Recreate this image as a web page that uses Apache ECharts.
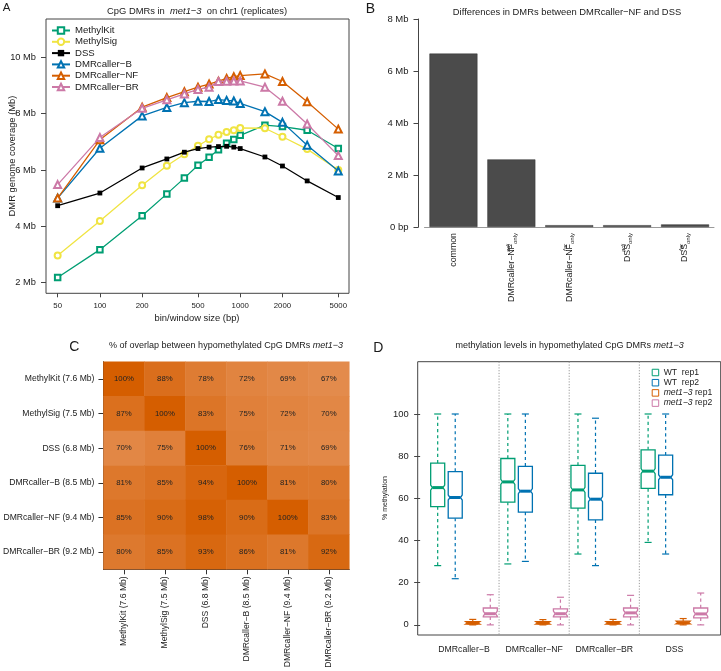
<!DOCTYPE html>
<html><head><meta charset="utf-8">
<script src="https://cdn.jsdelivr.net/npm/echarts@6/dist/echarts.min.js"></script>
<style>html,body{margin:0;padding:0;background:#fff}#c{width:721px;height:671px}</style>
</head><body><div id="c"></div>
<script>
const FONT = '"Liberation Sans", Arial, Helvetica, sans-serif';
const TXT = '#1a1a1a';

// ---------- Panel A data ----------
const binSizes = [50,100,200,300,400,500,600,700,800,900,1000,1500,2000,3000,5000];
const aNames = ['MethylKit','MethylSig','DSS','DMRcaller−B','DMRcaller−NF','DMRcaller−BR'];
const methylKit = [2.18,3.17,4.37,5.15,5.71,6.17,6.45,6.72,6.95,7.08,7.23,7.59,7.54,7.41,6.76];
const methylSig = [2.96,4.19,5.46,6.15,6.56,6.86,7.09,7.25,7.35,7.41,7.49,7.48,7.18,6.74,6.00];
const dss       = [4.73,5.18,6.07,6.39,6.63,6.76,6.81,6.83,6.84,6.81,6.76,6.46,6.14,5.61,5.02];
const dmrB      = [5.00,6.77,7.92,8.22,8.39,8.44,8.43,8.50,8.47,8.45,8.36,8.07,7.69,6.88,5.96];
const dmrNF     = [5.00,7.07,8.23,8.57,8.78,8.94,9.05,9.15,9.25,9.31,9.35,9.41,9.14,8.42,7.45];
const dmrBR     = [5.48,7.15,8.19,8.49,8.70,8.86,8.94,9.14,9.15,9.16,9.16,8.94,8.44,7.63,6.51];
const aTicksX = [50,100,200,500,1000,2000,5000];
const aTicksY = [2,4,6,8,10];

// ---------- Panel B data ----------
const bCategories = ['common','NF_adj','NF_far','DSS_adj','DSS_far'];
const bLabelMain = ['common','DMRcaller−NF','DMRcaller−NF','DSS','DSS'];
const bLabelSup  = ['','adj','far','adj','far'];
const bLabelSub  = ['','only','only','only','only'];
const bValues = [6.67, 2.60, 0.07, 0.07, 0.10];
const bTicksY = [0,2,4,6,8];

// ---------- Panel C data ----------
const cNames = ['MethylKit (7.6 Mb)','MethylSig (7.5 Mb)','DSS (6.8 Mb)','DMRcaller−B (8.5 Mb)','DMRcaller−NF (9.4 Mb)','DMRcaller−BR (9.2 Mb)'];
const overlap = [
  [100,88,78,72,69,67],
  [87,100,83,75,72,70],
  [70,75,100,76,71,69],
  [81,85,94,100,81,80],
  [85,90,98,90,100,83],
  [80,85,93,86,81,92]
];

// ---------- Panel D data ----------
const dGroups = ['DMRcaller−B','DMRcaller−NF','DMRcaller−BR','DSS'];
const dSamples = ['WT  rep1','WT  rep2','met1−3 rep1','met1−3 rep2'];
// [low whisker, Q1, median, Q3, high whisker] per group
const wtRep1  = [[28.1,56.1,65.1,76.7,100],[28.9,58.2,67.8,78.9,100],[33.6,55.4,64.0,75.6,100],[39.1,64.7,72.9,83.0,100]];
const wtRep2  = [[21.9,50.6,60.4,72.7,100],[30.1,53.5,63.4,75.2,100],[28.1,49.8,59.6,71.9,98.0],[33.6,61.7,70.0,80.5,100]];
const metRep1 = [[0,0.4,0.9,1.5,2.6],[0,0.4,0.9,1.5,2.5],[0,0.4,0.9,1.5,2.6],[0,0.5,1.0,1.8,3.0]];
const metRep2 = [[0,3.8,5.3,8.0,14.3],[0,3.8,5.3,7.6,13.1],[0,3.8,5.7,8.0,14.0],[0,3.3,5.2,8.0,15.1]];
const dTicksY = [0,20,40,60,80,100];
const dGroupCenters = [2.5,6.5,10.5,14.5];
const dSeparators = [4.5,8.5,12.5];

// ---------- styles ----------
const aColors = ['#009E73','#F0E442','#000000','#0072B2','#D55E00','#CC79A7'];
const aSymbols = ['emptyRect','emptyCircle','rect','emptyTriangle','emptyTriangle','emptyTriangle'];
const aSymbolSizes = [5.5, 6, 4.8, 7, 7, 7];
const aData = [methylKit, methylSig, dss, dmrB, dmrNF, dmrBR];
const dColors = ['#009E73','#0072B2','#D55E00','#CC79A7'];
const dData = [wtRep1, wtRep2, metRep1, metRep2];

const chart = echarts.init(document.getElementById('c'), null, {renderer: 'canvas'});

const series = [];
aNames.forEach((n, i) => {
  series.push({
    name: n, type: 'line', xAxisIndex: 0, yAxisIndex: 0,
    data: binSizes.map((b, k) => [b, aData[i][k]]),
    symbol: aSymbols[i], symbolSize: aSymbolSizes[i],
    showSymbol: true,
    lineStyle: {width: 1.3, color: aColors[i]},
    itemStyle: {color: aColors[i], borderWidth: 1.1},
    emphasis: {disabled: true}, animation: false, z: 2 + i
  });
});

series.push({
  type: 'bar', xAxisIndex: 1, yAxisIndex: 1, data: bValues, barWidth: 48,
  itemStyle: {color: '#4b4b4b', borderColor: '#333', borderWidth: 0.5},
  animation: false, emphasis: {disabled: true}
});

const heatIndex = series.length;
const heatData = [];
overlap.forEach((row, r) => row.forEach((v, c) => heatData.push([c, r, v])));
series.push({
  type: 'heatmap', xAxisIndex: 2, yAxisIndex: 2, data: heatData,
  label: {show: true, formatter: p => p.value[2] + '%', fontSize: 7.8, color: '#222', fontFamily: FONT},
  emphasis: {disabled: true}, animation: false, progressive: 0
});

function boxRender(color) {
  return function (params, api) {
    const pos = api.value(0), lo = api.value(1), q1 = api.value(2), md = api.value(3), q3 = api.value(4), hi = api.value(5);
    const cx = api.coord([pos, md])[0];
    const hw = api.size([0.4, 0])[0];
    const iw = hw * 0.75;
    const y = v => api.coord([pos, v])[1];
    const notch = 1.2;
    const yq1 = y(q1), yq3 = y(q3), ym = y(md);
    const ya = y(Math.max(q1, md - notch)), yb = y(Math.min(q3, md + notch));
    const yl = y(lo), yh = y(hi);
    return {
      type: 'group',
      children: [
        {type: 'line', shape: {x1: cx, y1: yq3, x2: cx, y2: yh}, style: {stroke: color, lineWidth: 1.2, lineDash: [3.2, 3]}},
        {type: 'line', shape: {x1: cx, y1: yq1, x2: cx, y2: yl}, style: {stroke: color, lineWidth: 1.2, lineDash: [3.2, 3]}},
        {type: 'line', shape: {x1: cx - hw / 2, y1: yh, x2: cx + hw / 2, y2: yh}, style: {stroke: color, lineWidth: 1.2}},
        {type: 'line', shape: {x1: cx - hw / 2, y1: yl, x2: cx + hw / 2, y2: yl}, style: {stroke: color, lineWidth: 1.2}},
        {type: 'polygon', shape: {points: [
          [cx - hw, yq1], [cx - hw, ya], [cx - iw, ym], [cx - hw, yb], [cx - hw, yq3],
          [cx + hw, yq3], [cx + hw, yb], [cx + iw, ym], [cx + hw, ya], [cx + hw, yq1]
        ]}, style: {stroke: color, lineWidth: 1.3, fill: '#fff'}},
        {type: 'line', shape: {x1: cx - iw, y1: ym, x2: cx + iw, y2: ym}, style: {stroke: color, lineWidth: 3}}
      ]
    };
  };
}

series.push({
  type: 'custom', xAxisIndex: 3, yAxisIndex: 3, silent: true, animation: false,
  data: dSeparators.map(v => [v]),
  encode: {x: 0},
  renderItem: (params, api) => {
    const px = api.coord([api.value(0), 0])[0];
    const cs = params.coordSys;
    return {type: 'line', shape: {x1: px, y1: cs.y, x2: px, y2: cs.y + cs.height},
      style: {stroke: '#999', lineWidth: 1, lineDash: [1.2, 1.6]}};
  }
});

dSamples.forEach((n, s) => {
  series.push({
    name: n, type: 'custom', xAxisIndex: 3, yAxisIndex: 3, animation: false, silent: true,
    itemStyle: {color: dColors[s]},
    data: dData[s].map((st, g) => [g * 4 + s + 1].concat(st)),
    encode: {x: 0, y: [1, 2, 3, 4, 5]},
    renderItem: boxRender(dColors[s]),
    z: 3
  });
});

const ax = {fontFamily: FONT, color: TXT};

function bLabel(v) {
  const i = bCategories.indexOf(v);
  if (!bLabelSup[i]) return '{m|' + bLabelMain[i] + '}';
  return '{m|' + bLabelMain[i] + '}{sup|' + bLabelSup[i] + '}{sub|' + bLabelSub[i] + '}';
}

const option = {
  backgroundColor: '#fff',
  animation: false,
  textStyle: {fontFamily: FONT},
  grid: [
    {left: 46, top: 19, width: 303, height: 274.3, show: true, borderColor: '#444', borderWidth: 1, backgroundColor: 'transparent'},
    {left: 424.5, top: 19, width: 289.5, height: 208},
    {left: 103.3, top: 361.7, width: 246, height: 207.6},
    {left: 417.7, top: 361.7, width: 303, height: 273.3, show: true, borderColor: '#444', borderWidth: 1, backgroundColor: 'transparent'}
  ],
  xAxis: [
    {gridIndex: 0, type: 'log', logBase: 10, min: 41.3, max: 5960,
      axisLine: {show: false}, splitLine: {show: false}, minorTick: {show: false},
      axisTick: {show: true, length: 4, lineStyle: {color: '#444'}, customValues: aTicksX},
      axisLabel: Object.assign({fontSize: 7.8, margin: 9, customValues: aTicksX, formatter: v => String(v)}, ax)},
    {gridIndex: 1, type: 'category', data: bCategories,
      axisLine: {show: true, lineStyle: {color: '#9a9a9a', width: 1}},
      axisTick: {show: false}, splitLine: {show: false},
      axisLabel: Object.assign({rotate: 90, margin: 6, interval: 0, formatter: bLabel,
        rich: {
          m: {fontSize: 8.8, fontFamily: FONT, color: TXT, lineHeight: 13, verticalAlign: 'middle'},
          sup: {fontSize: 6, fontFamily: FONT, color: TXT, lineHeight: 7, verticalAlign: 'top', width: 0, fontStyle: 'italic'},
          sub: {fontSize: 6, fontFamily: FONT, color: TXT, lineHeight: 7, verticalAlign: 'bottom'}
        }}, ax)},
    {gridIndex: 2, type: 'category', data: cNames,
      axisLine: {show: true, lineStyle: {color: '#333'}},
      axisTick: {show: true, length: 5, alignWithLabel: true, lineStyle: {color: '#333'}},
      splitLine: {show: false},
      axisLabel: Object.assign({rotate: 90, fontSize: 8.6, margin: 7, interval: 0}, ax)},
    {gridIndex: 3, type: 'value', min: -0.14, max: 17.14,
      axisLine: {show: false}, axisTick: {show: false}, splitLine: {show: false},
      axisLabel: Object.assign({fontSize: 8.7, margin: 10, customValues: dGroupCenters,
        formatter: v => dGroups[dGroupCenters.indexOf(v)] || ''}, ax)}
  ],
  yAxis: [
    {gridIndex: 0, type: 'value', min: 1.62, max: 11.36,
      axisLine: {show: false}, splitLine: {show: false},
      axisTick: {show: true, length: 5, lineStyle: {color: '#444'}, customValues: aTicksY},
      axisLabel: Object.assign({fontSize: 9.3, margin: 10, customValues: aTicksY, formatter: v => v + ' Mb'}, ax)},
    {gridIndex: 1, type: 'value', min: 0, max: 8, offset: 6,
      axisLine: {show: true, lineStyle: {color: '#444'}}, splitLine: {show: false},
      axisTick: {show: true, length: 5, lineStyle: {color: '#444'}, customValues: bTicksY},
      axisLabel: Object.assign({fontSize: 9.5, margin: 10, customValues: bTicksY, formatter: v => v === 0 ? '0 bp' : v + ' Mb'}, ax)},
    {gridIndex: 2, type: 'category', data: cNames, inverse: true,
      axisLine: {show: true, lineStyle: {color: '#333'}},
      axisTick: {show: true, length: 5, alignWithLabel: true, lineStyle: {color: '#333'}},
      splitLine: {show: false},
      axisLabel: Object.assign({fontSize: 8.6, margin: 9, interval: 0}, ax)},
    {gridIndex: 3, type: 'value', min: -4.8, max: 124.8,
      axisLine: {show: false}, splitLine: {show: false},
      axisTick: {show: true, length: 6, lineStyle: {color: '#444'}, customValues: dTicksY},
      axisLabel: Object.assign({fontSize: 9.4, margin: 9, customValues: dTicksY}, ax)}
  ],
  visualMap: [{
    type: 'continuous', show: false, seriesIndex: heatIndex, dimension: 2,
    min: 67, max: 100, inRange: {color: ['#e38b4c', '#d55e00']}
  }],
  legend: [
    {data: aNames, orient: 'vertical', left: 51, top: 25.5, padding: 0,
      itemWidth: 18, itemHeight: 8, itemGap: 1.3,
      textStyle: {fontSize: 9.6, fontFamily: FONT, color: TXT, lineHeight: 10},
      selectedMode: false},
    {data: dSamples.map((n, s) => ({name: n, icon: 'rect',
        itemStyle: {color: '#fff', borderColor: dColors[s], borderWidth: 1}})),
      orient: 'vertical', left: 651.7, top: 368, padding: 0,
      itemWidth: 6.5, itemHeight: 6.5, itemGap: 1.2,
      formatter: n => n.indexOf('met1') === 0 ? '{i|met1−3} {n|' + n.slice(7) + '}' : '{n|' + n + '}',
      textStyle: {fontSize: 8.6, fontFamily: FONT, color: TXT, lineHeight: 9,
        rich: {i: {fontStyle: 'italic', fontSize: 8.6, fontFamily: FONT, color: TXT},
               n: {fontSize: 8.6, fontFamily: FONT, color: TXT}}},
      selectedMode: false}
  ],
  graphic: [
    {type: 'text', x: 6.5, y: 8, style: {text: 'A', font: '11.5px ' + FONT, fill: TXT, align: 'center', verticalAlign: 'middle'}},
    {type: 'text', x: 197, y: 11, style: {
      text: '{n|CpG DMRs in  }{i|met1−3}{n|  on chr1 (replicates)}', align: 'center', verticalAlign: 'middle',
      rich: {n: {font: '9.4px ' + FONT, fill: TXT}, i: {font: 'italic 9.4px ' + FONT, fill: TXT}}}},
    {type: 'text', x: 12, y: 156, rotation: Math.PI / 2, style: {text: 'DMR genome coverage (Mb)', font: '9.4px ' + FONT, fill: TXT, align: 'center', verticalAlign: 'middle'}},
    {type: 'text', x: 197, y: 318, style: {text: 'bin/window size (bp)', font: '9.4px ' + FONT, fill: TXT, align: 'center', verticalAlign: 'middle'}},
    {type: 'text', x: 370.5, y: 9.5, style: {text: 'B', font: '14px ' + FONT, fill: TXT, align: 'center', verticalAlign: 'middle'}},
    {type: 'text', x: 567, y: 12, style: {text: 'Differences in DMRs between DMRcaller−NF and DSS', font: '9.4px ' + FONT, fill: TXT, align: 'center', verticalAlign: 'middle'}},
    {type: 'text', x: 74.3, y: 347.5, style: {text: 'C', font: '14px ' + FONT, fill: TXT, align: 'center', verticalAlign: 'middle'}},
    {type: 'text', x: 226, y: 345.7, style: {
      text: '{n|% of overlap between hypomethylated CpG DMRs }{i|met1−3}', align: 'center', verticalAlign: 'middle',
      rich: {n: {font: '9px ' + FONT, fill: TXT}, i: {font: 'italic 9px ' + FONT, fill: TXT}}}},
    {type: 'text', x: 378.3, y: 348.5, style: {text: 'D', font: '14px ' + FONT, fill: TXT, align: 'center', verticalAlign: 'middle'}},
    {type: 'text', x: 569.7, y: 345.7, style: {
      text: '{n|methylation levels in hypomethylated CpG DMRs }{i|met1−3}', align: 'center', verticalAlign: 'middle',
      rich: {n: {font: '9px ' + FONT, fill: TXT}, i: {font: 'italic 9px ' + FONT, fill: TXT}}}},
    {type: 'text', x: 385, y: 498, rotation: Math.PI / 2, style: {text: '% methylation', font: '7px ' + FONT, fill: TXT, align: 'center', verticalAlign: 'middle'}}
  ],
  series: series
};
chart.setOption(option);
</script>
</body></html>
